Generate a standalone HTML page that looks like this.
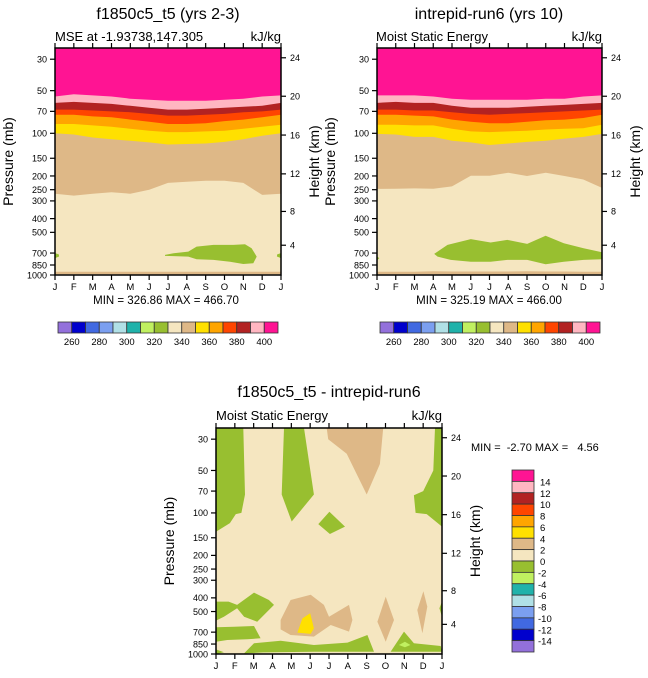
<!DOCTYPE html>
<html><head><meta charset="utf-8">
<style>
html,body{margin:0;padding:0;background:#fff;}
svg{display:block;font-family:"Liberation Sans",Arial,sans-serif;}
</style></head>
<body>
<svg id="chart" width="648" height="678" viewBox="0 0 648 678" xmlns="http://www.w3.org/2000/svg">
<text x="168" y="19" font-size="16" text-anchor="middle">f1850c5_t5 (yrs 2-3)</text>
<text x="55" y="41" font-size="13">MSE at -1.93738,147.305</text>
<text x="281" y="41" font-size="13" text-anchor="end">kJ/kg</text>
<text x="489" y="19" font-size="16" text-anchor="middle">intrepid-run6 (yrs 10)</text>
<text x="376" y="41" font-size="13">Moist Static Energy</text>
<text x="602" y="41" font-size="13" text-anchor="end">kJ/kg</text>
<text x="329" y="397" font-size="16" text-anchor="middle">f1850c5_t5 - intrepid-run6</text>
<text x="216" y="420" font-size="13">Moist Static Energy</text>
<text x="442" y="420" font-size="13" text-anchor="end">kJ/kg</text>
<text x="166" y="304" font-size="11.5" text-anchor="middle">MIN = 326.86 MAX = 466.70</text>
<text x="489" y="304" font-size="11.5" text-anchor="middle">MIN = 325.19 MAX = 466.00</text>
<text x="471" y="451" font-size="11" xml:space="preserve" style="white-space:pre">MIN =  -2.70 MAX =   4.56</text>
</svg>
<script>
const months=["J","F","M","A","M","J","J","A","S","O","N","D","J"];
const pTicks=[30,50,70,100,150,200,250,300,400,500,700,850,1000];
const zTicks=[4,8,12,16,20,24];
const colors=["#9370db","#0000cd","#4169e1","#7b9ff0","#b0e0e6","#20b2aa","#c0f060","#98bf30","#f5e6c0","#deb887","#ffe000","#ffa500","#ff4500","#b22222","#ffb6c1","#ff1493"];
const cbLabelsTop=[260,280,300,320,340,360,380,400];
const cbLabelsDiff=[14,12,10,8,6,4,2,0,-2,-4,-6,-8,-10,-12,-14];
const p1_b340=[267,275,267,261,267,250,224,220,216,216,224,272,267];
const p1_b350=[100,102,107,110,113,116,120,119,118,115,110,104,100];
const p1_b360=[86,86,88,90,93,96,98,98,97,96,93,90,87];
const p1_b370=[74,74,76,77,80,83,86,86,85,82,80,77,74];
const p1_b380=[68,68,69,70,71,73,75,75,74,73,71,70,68];
const p1_b390=[61,60,61,62,64,66,68,68,67,66,65,64,61];
const p1_b400=[55,53,54,55,57,58,59,59,59,58,57,55,54];
const p1_sfcTop=[950,950,950,950,950,948,948,948,948,950,950,950,950];
const p1_sfcBot=[985,985,985,985,990,990,990,990,990,990,985,985,985];
const p1_green=[[5.84,721],[6.3,702],[7.08,684],[7.52,630],[8.41,613],[9.47,613],[10.09,606],[10.44,647],[10.71,742],[10.53,826],[10.0,836],[9.29,805],[8.41,783],[7.52,774],[7.08,742],[6.3,735],[5.84,733]];
const p1_greenL=[[0,700],[0.2,715],[0.22,740],[0,760]];
const p1_greenR=[[12,700],[11.8,715],[11.78,740],[12,760]];
const p2_b340=[247,246,245,246,237,199,199,190,200,190,200,212,243];
const p2_b350=[101,102,106,106,113,116,121,118,115,113,109,106,101];
const p2_b360=[87,87,88,88,93,97,98,97,96,94,93,92,87];
const p2_b370=[74,74,75,76,80,83,85,85,83,81,80,78,74];
const p2_b380=[68,68,69,69,71,73,74,73,72,71,70,69,68];
const p2_b390=[61,60,61,61,64,66,66,66,65,64,63,62,61];
const p2_b400=[54,54,54,55,57,58,58,58,58,57,57,55,54];
const p2_sfcTop=[950,950,948,940,945,945,945,945,942,945,945,948,950];
const p2_sfcBot=[985,985,985,985,992,992,992,992,992,992,985,985,985];
const p2_green=[[3.05,710],[3.76,613],[5.0,558],[6.06,590],[6.95,565],[8.01,603],[8.99,529],[9.96,596],[11.02,647],[12,690],[12,774],[11.02,783],[9.96,805],[8.99,840],[8.01,783],[6.95,783],[6.06,805],[5.0,805],[3.93,783],[3.23,742]];
const p2_greenL=[[0,740],[0.12,760],[0,790]];
const d_green=[
 [[0,25],[1.45,25],[1.54,74],[1.35,100],[1.05,102],[0.74,118],[0,136]],
 [[3.61,25],[4.67,25],[5.2,74],[4.02,115],[3.49,74]],
 [[5.43,120],[6.02,98],[6.85,125],[6.05,141]],
 [[11.63,25],[11.54,50],[11.0,70],[10.51,75],[10.6,100],[11.19,102],[12,125],[12,25]],
 [[0,425],[0.67,425],[1.12,449],[2.02,367],[2.81,414],[3.08,449],[2.19,590],[1.49,544],[1.12,474],[0.42,544],[0,580]],
 [[0,647],[0.96,640],[2.02,633],[2.37,774],[1.66,787],[0.6,796],[0,818]],
 [[1.49,990],[2.02,840],[3.43,805],[5.2,863],[6.98,830],[8.04,733],[8.39,963],[5.2,963],[2.5,975]],
 [[9.27,963],[9.98,694],[10.51,840],[11.93,877],[12,963]],
 [[12,425],[11.86,474],[12,544]],
 [[0,927],[0.42,973],[0,1000]]
];
const d_tan=[
 [[5.88,25],[8.88,25],[8.7,45],[8.0,74],[6.94,38],[5.96,30]],
 [[3.43,574],[3.96,414],[5.03,380],[5.73,449],[6.0,544],[7.06,449],[7.24,574],[7.06,694],[6.09,623],[5.2,753],[3.96,733],[3.43,669]],
 [[8.57,590],[9.01,393],[9.45,574],[9.01,818]],
 [[10.69,488],[11.01,359],[11.22,461],[10.96,713]]
];
const d_yellow=[[4.32,705],[4.59,559],[5.0,515],[5.2,658],[5.03,720]];
const d_lgreen=[[9.71,863],[10.03,818],[10.33,863],[10.03,896]];

const NS="http://www.w3.org/2000/svg";
const svg=document.getElementById('chart');
function el(tag,attrs,parent){const e=document.createElementNS(NS,tag);for(const k in attrs)e.setAttribute(k,attrs[k]);(parent||svg).appendChild(e);return e;}
const PTOP=25,PBOT=1000;
function makeScales(x0,y0,w,h){
  return {xs:m=>x0+m*w/12, ys:p=>y0+h*Math.log10(p/PTOP)/Math.log10(PBOT/PTOP)};
}
function zToP(z){
  const m=z*1000;
  if(m<=11000) return 1013.25*Math.pow(1-2.25577e-5*m,5.25588);
  if(m<=20000) return 226.32*Math.exp(-(m-11000)/6341.6);
  return 54.75*Math.pow(1+(m-20000)/216650,-34.163);
}
function polyPts(S,pts){return pts.map(q=>S.xs(q[0]).toFixed(1)+","+S.ys(q[1]).toFixed(1)).join(" ");}
function bandTop(S,arr){
  const pts=[[0,PTOP]].concat(arr.map((p,i)=>[i,p])).concat([[12,PTOP]]);
  return polyPts(S,pts);
}
function bandBetween(S,a,b){
  const pts=a.map((p,i)=>[i,p]).concat(b.map((p,i)=>[i,p]).reverse());
  return polyPts(S,pts);
}
function axes(S,x0,y0,w,h,g,prefix){
  for(let i=0;i<13;i++){
    const x=S.xs(i);
    const t1=el('line',{x1:x,x2:x,y1:y0+h,y2:y0+h+5,stroke:'#000','stroke-width':1.2},g);
    
    
    const t2=el('line',{x1:x,x2:x,y1:y0,y2:y0-5,stroke:'#000','stroke-width':1.2},g);
    
    
    const tl=el('text',{x:x,y:y0+h+15,'font-size':9.5,'text-anchor':'middle'},g);
    tl.textContent=months[i];
    
    
  }
  pTicks.forEach(p=>{
    const y=S.ys(p);
    const t=el('line',{x1:x0,x2:x0-5,y1:y,y2:y,stroke:'#000','stroke-width':1.2},g);
    
    
    const l=el('text',{x:x0-8,y:y+3.3,'font-size':9,'text-anchor':'end'},g);
    l.textContent=p;
    
    
  });
  zTicks.forEach(z=>{
    const y=S.ys(zToP(z));
    const t=el('line',{x1:x0+w,x2:x0+w+5,y1:y,y2:y,stroke:'#000','stroke-width':1.2},g);
    
    
    const l=el('text',{x:x0+w+9,y:y+3.3,'font-size':9},g);
    l.textContent=z;
    
    
  });
  const fr=el('rect',{x:x0,y:y0,width:w,height:h,fill:'none',stroke:'#000','stroke-width':1.5},g);
  
  
  const yl=el('text',{x:0,y:0,'font-size':14,'text-anchor':'middle',transform:`translate(${x0-42},${y0+h/2}) rotate(-90)`},g);
  yl.textContent='Pressure (mb)';
  
  
  const yr=el('text',{x:0,y:0,'font-size':14,'text-anchor':'middle',transform:`translate(${x0+w+38},${y0+h/2}) rotate(-90)`},g);
  yr.textContent='Height (km)';
  
  
}
function panelMSE(x0,y0,w,h,prefix,b,sfcT,sfcB,greens){
  const S=makeScales(x0,y0,w,h);
  const g=el('g',{});
  
  
  const bg=el('rect',{x:x0,y:y0,width:w,height:h,fill:colors[8]},g);
  
  
  const lv=[340,350,360,370,380,390,400];
  b.forEach((arr,i)=>{
    const pg=el('polygon',{points:bandTop(S,arr),fill:colors[9+i]},g);
    
    
  });
  const s=el('polygon',{points:bandBetween(S,sfcT,sfcB),fill:colors[9]},g);
  
  
  greens.forEach(pts=>{
    const pg=el('polygon',{points:polyPts(S,pts),fill:colors[7]},g);
    
    
  });
  axes(S,x0,y0,w,h,g,prefix);
}
panelMSE(55,48,226,227,'panel1',[p1_b340,p1_b350,p1_b360,p1_b370,p1_b380,p1_b390,p1_b400],p1_sfcTop,p1_sfcBot,[p1_green,p1_greenL,p1_greenR]);
panelMSE(377,48,225,227,'panel2',[p2_b340,p2_b350,p2_b360,p2_b370,p2_b380,p2_b390,p2_b400],p2_sfcTop,p2_sfcBot,[p2_green,p2_greenL]);

(function(){
  const x0=216,y0=428,w=226,h=226,prefix='panel3';
  const S=makeScales(x0,y0,w,h);
  const g=el('g',{});
  
  
  const bg=el('rect',{x:x0,y:y0,width:w,height:h,fill:colors[8]},g);
  
  
  d_green.forEach(pts=>{
    const pg=el('polygon',{points:polyPts(S,pts),fill:colors[7]},g);
    
    
  });
  d_tan.forEach(pts=>{
    const pg=el('polygon',{points:polyPts(S,pts),fill:colors[9]},g);
    
    
  });
  const y=el('polygon',{points:polyPts(S,d_yellow),fill:colors[10]},g);
  
  
  const lg=el('polygon',{points:polyPts(S,d_lgreen),fill:colors[6]},g);
  
  
  axes(S,x0,y0,w,h,g,prefix);
})();

function hbar(x0,y0,w,h,prefix){
  const g=el('g',{});
  
  
  const bw=w/colors.length;
  colors.forEach((c,i)=>{
    const r=el('rect',{x:x0+i*bw,y:y0,width:bw,height:h,fill:c,stroke:'#333','stroke-width':0.8},g);
    
    
  });
  cbLabelsTop.forEach((v,i)=>{
    const t=el('text',{x:x0+bw*(1+2*i),y:y0+h+12,'font-size':9.5,'text-anchor':'middle'},g);
    t.textContent=v;
    
    
  });
}
hbar(58,322,220,11,'panel1');
hbar(380,322,220,11,'panel2');
(function(){
  const x0=512,y0=470,w=22,h=182;
  const g=el('g',{});
  
  
  const bh=h/colors.length;
  colors.slice().reverse().forEach((c,i)=>{
    const r=el('rect',{x:x0,y:y0+i*bh,width:w,height:bh,fill:c,stroke:'#333','stroke-width':0.8},g);
    
    
  });
  cbLabelsDiff.forEach((v,i)=>{
    const t=el('text',{x:x0+w+(v<0?4:6),y:y0+bh*(i+1)+4,'font-size':9.5},g);
    t.textContent=v;
    
    
  });
})();
</script>
</body></html>
